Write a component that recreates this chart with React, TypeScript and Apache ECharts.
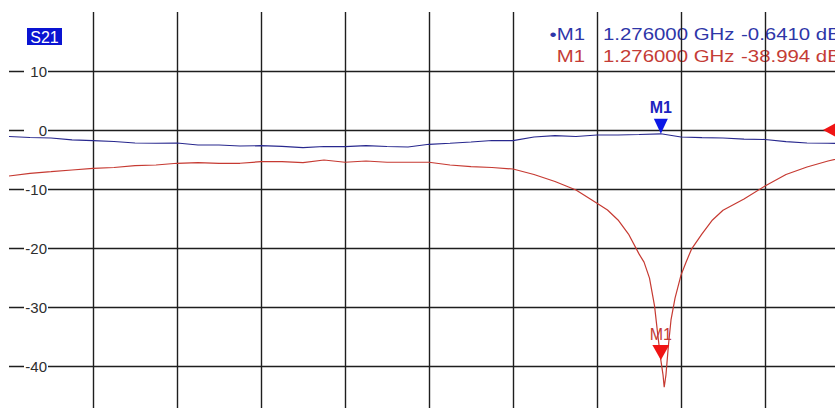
import React, { useEffect, useRef } from "react";
import * as echarts from "echarts";

// Frequency axis (GHz) and level axis (dB)
const xMin = 0.5;
const xMax = 1.5;
const xStep = 0.1;
const yMin = -50;
const yMax = 20;
const yStep = 10;

// Blue trace (S21 through)
const blueFreqs = [0.5, 0.525, 0.55, 0.575, 0.6, 0.625, 0.65, 0.675, 0.7, 0.725, 0.75, 0.775, 0.8, 0.825, 0.85, 0.875, 0.9, 0.925, 0.95, 0.975, 1.0, 1.025, 1.05, 1.075, 1.1, 1.125, 1.15, 1.175, 1.2, 1.225, 1.25, 1.276, 1.3, 1.325, 1.35, 1.375, 1.4, 1.425, 1.45, 1.475, 1.5];
const blueDb = [-1.10, -1.27, -1.36, -1.69, -1.81, -1.95, -2.20, -2.25, -2.20, -2.54, -2.54, -2.71, -2.66, -2.76, -3.00, -2.80, -2.83, -2.66, -2.80, -2.88, -2.42, -2.25, -2.03, -1.78, -1.81, -1.19, -0.97, -1.10, -0.85, -0.85, -0.76, -0.641, -1.19, -1.30, -1.36, -1.53, -1.61, -1.98, -2.20, -2.25, -2.29];

// Red trace (notch)
const redFreqs = [0.5, 0.525, 0.55, 0.575, 0.6, 0.625, 0.65, 0.675, 0.7, 0.725, 0.75, 0.775, 0.8, 0.825, 0.85, 0.875, 0.9, 0.925, 0.95, 0.975, 1.0, 1.025, 1.05, 1.075, 1.1, 1.125, 1.15, 1.175, 1.2, 1.2125, 1.225, 1.2375, 1.25, 1.256, 1.2625, 1.2685, 1.2725, 1.276, 1.2786, 1.28, 1.2821, 1.2851, 1.2881, 1.2929, 1.3, 1.306, 1.3125, 1.325, 1.3375, 1.35, 1.375, 1.4, 1.425, 1.45, 1.475, 1.5];
const redDb = [-7.80, -7.34, -7.07, -6.78, -6.49, -6.36, -6.05, -5.93, -5.64, -5.54, -5.64, -5.64, -5.37, -5.37, -5.54, -5.08, -5.47, -5.25, -5.47, -5.47, -5.47, -5.93, -6.22, -6.36, -6.61, -7.54, -8.73, -10.17, -12.42, -13.56, -15.25, -17.63, -21.0, -22.4, -25.1, -29.8, -34.9, -38.994, -41.5, -43.6, -41.5, -36.4, -32.2, -28.5, -24.6, -22.4, -20.2, -17.6, -15.25, -13.6, -11.7, -9.5, -7.54, -6.27, -5.25, -4.4];

// Marker
const markerFreq = 1.276;
const markerBlueDb = -0.641;
const markerRedDb = -38.994;
const refLevel = 0;

const traceTitle = "S21";
const blueReadout = ["\u2022M1", "1.276000 GHz", "-0.6410 dB"];
const redReadout = ["M1", "1.276000 GHz", "-38.994 dB"];

const FONT = '"Liberation Sans", Arial, sans-serif';
const BLUE_TRACE = "#28288e";
const RED_TRACE = "#c63a32";
const BLUE_TEXT = "#2e36a8";
const RED_TEXT = "#c43c36";
const GRID = "#1e1e1e";

export default function App() {
  const ref = useRef<HTMLDivElement>(null);

  useEffect(() => {
    if (!ref.current) return;
    const chart = echarts.init(ref.current, null, { renderer: "svg" });

    const sx = 1.2;
    const readout = (parts: string[], color: string, y: number) => [
      { type: "text", x: 585, y, scaleX: sx, style: { text: parts[0], fill: color, font: `17px ${FONT}`, align: "right", verticalAlign: "middle" } },
      { type: "text", x: 603, y, scaleX: sx, style: { text: parts[1], fill: color, font: `17px ${FONT}`, align: "left", verticalAlign: "middle" } },
      { type: "text", x: 741, y, scaleX: sx, style: { text: parts[2], fill: color, font: `17px ${FONT}`, align: "left", verticalAlign: "middle" } },
    ];

    chart.setOption({
      animation: false,
      backgroundColor: "#ffffff",
      grid: { left: 9, top: 12, width: 840, height: 413, containLabel: false },
      xAxis: {
        type: "value",
        min: xMin,
        max: xMax,
        interval: xStep,
        axisLine: { show: false },
        axisTick: { show: false },
        axisLabel: { show: false },
        splitLine: { show: true, showMinLine: false, lineStyle: { color: GRID, width: 1.4 } },
      },
      yAxis: {
        type: "value",
        min: yMin,
        max: yMax,
        interval: yStep,
        axisLine: { show: false },
        axisTick: { show: false },
        axisLabel: {
          inside: true,
          showMaxLabel: false,
          showMinLabel: false,
          margin: 39,
          align: "right",
          verticalAlign: "middle",
          width: 22,
          backgroundColor: "#ffffff",
          padding: [1, 1, 1, 1],
          color: "#2e2e2e",
          fontSize: 15,
          fontFamily: FONT,
        },
        splitLine: { show: true, showMaxLine: false, lineStyle: { color: GRID, width: 1.4 } },
      },
      series: [
        {
          type: "line",
          name: "S21 blue",
          data: blueFreqs.map((f, i) => [f, blueDb[i]]),
          showSymbol: false,
          lineStyle: { color: BLUE_TRACE, width: 1.2 },
          z: 3,
          markPoint: {
            symbol: "path://M0,0L10,0L5,10Z",
            symbolSize: [14, 15],
            symbolOffset: [0, -7.5],
            itemStyle: { color: "#0c18e6" },
            label: { show: true, position: "top", distance: 3, formatter: "M1", color: "#1c24c0", fontWeight: "bold", fontSize: 16, fontFamily: FONT },
            data: [{ coord: [markerFreq, markerBlueDb] }],
          },
        },
        {
          type: "line",
          name: "S21 red",
          data: redFreqs.map((f, i) => [f, redDb[i]]),
          showSymbol: false,
          lineStyle: { color: RED_TRACE, width: 1.2 },
          z: 3,
          markPoint: {
            data: [
              {
                coord: [markerFreq, markerRedDb],
                symbol: "path://M0,0L10,0L5,10Z",
                symbolSize: [17, 15],
                symbolOffset: [0, -7.5],
                itemStyle: { color: "#f01414" },
                label: { show: true, position: "top", distance: 3, formatter: "M1", color: RED_TEXT, fontSize: 16, fontFamily: FONT },
              },
              {
                coord: [xMax, refLevel],
                symbol: "path://M0,5L10,0L10,10Z",
                symbolSize: [13, 14],
                symbolOffset: [-19.5, 0],
                itemStyle: { color: "#f01414" },
                label: { show: false },
              },
            ],
          },
        },
      ],
      graphic: [
        { type: "rect", shape: { x: 27, y: 28, width: 35, height: 17 }, style: { fill: "#0a14d2" } },
        { type: "text", x: 44.5, y: 37, style: { text: traceTitle, fill: "#ffffff", font: `16px ${FONT}`, align: "center", verticalAlign: "middle" } },
        ...readout(blueReadout, BLUE_TEXT, 34),
        ...readout(redReadout, RED_TEXT, 56),
      ],
    });

    return () => chart.dispose();
  }, []);

  return (
    <div style={{ position: "fixed", left: 0, top: 0, width: 835, height: 408, overflow: "hidden", background: "#fff" }}>
      <div ref={ref} style={{ width: 900, height: 450 }} />
    </div>
  );
}
